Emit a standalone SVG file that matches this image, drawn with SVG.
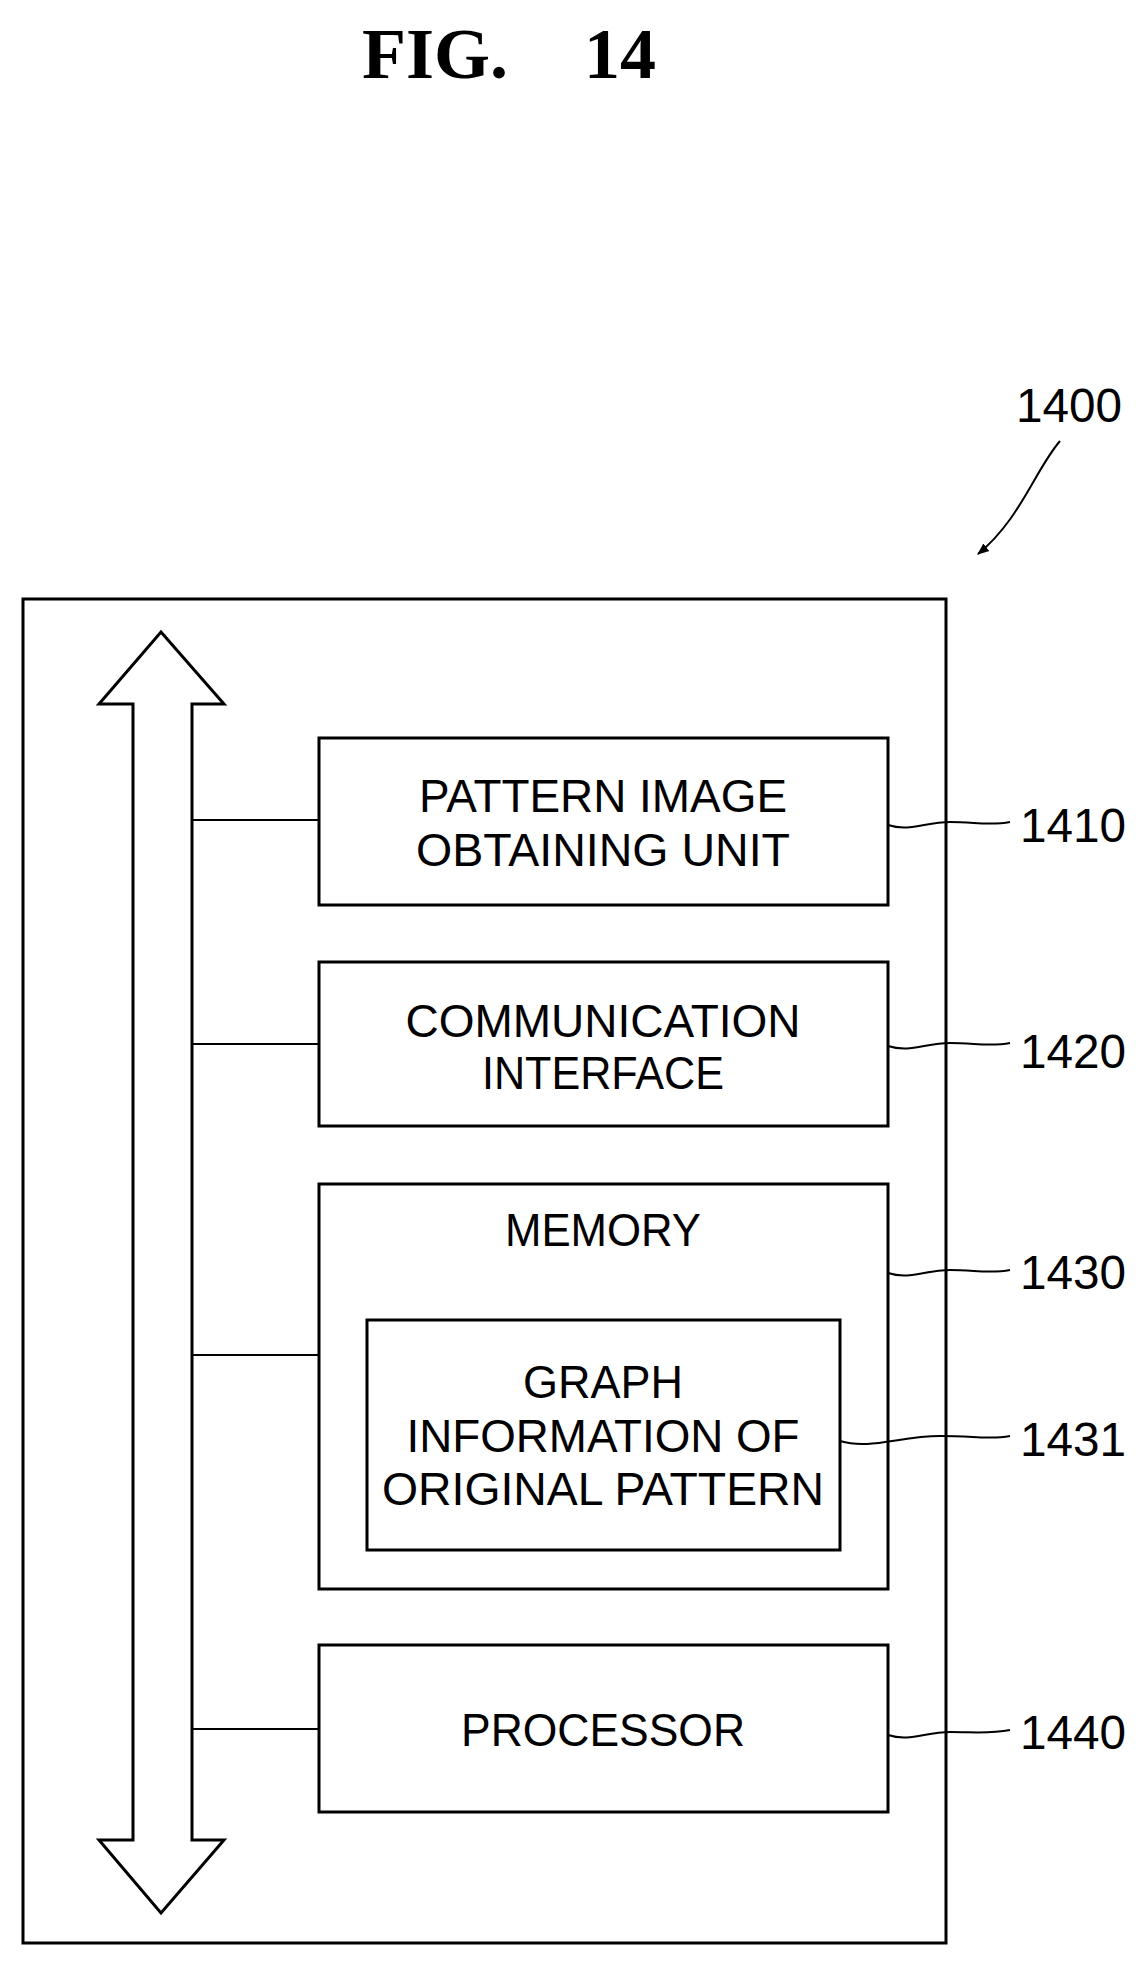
<svg xmlns="http://www.w3.org/2000/svg" width="1145" height="1966" viewBox="0 0 1145 1966">
<style>
.b{fill:#fff;stroke:#000;stroke-width:3}
.t{font-family:"Liberation Sans",Arial,sans-serif;font-size:47px;text-anchor:middle;fill:#000}
.l{font-family:"Liberation Sans",Arial,sans-serif;font-size:48px;fill:#000}
.c{fill:none;stroke:#000;stroke-width:2}
.f{font-family:"Liberation Serif",serif;font-weight:bold;font-size:72px;fill:#000}
</style>
<defs><marker id="ah" viewBox="0 0 10 10" refX="9" refY="5" markerWidth="12" markerHeight="12" orient="auto" markerUnits="userSpaceOnUse"><path d="M0,1 L10,5 L0,9 z" fill="#000"/></marker></defs>
<rect width="1145" height="1966" fill="#fff"/>
<text class="f" x="362" y="78">FIG.</text>
<text class="f" x="584" y="78">14</text>
<g id="n1400"><rect class="b" x="23" y="599" width="923" height="1344"/>
<text class="l" x="1016" y="422" textLength="106" lengthAdjust="spacingAndGlyphs">1400</text></g>
<g id="bus"><path class="b" stroke-width="2" d="M161,632 L224,704 L192,704 L192,1840 L224,1840 L161,1913 L99,1840 L133,1840 L133,704 L99,704 Z"/></g>
<g id="n1410"><rect class="b" x="319" y="738" width="569" height="167"/>
<text class="t" x="603" y="812" textLength="368" lengthAdjust="spacingAndGlyphs">PATTERN IMAGE</text>
<text class="t" x="603" y="866" textLength="374" lengthAdjust="spacingAndGlyphs">OBTAINING UNIT</text>
<text class="l" x="1020" y="842" textLength="106" lengthAdjust="spacingAndGlyphs">1410</text></g>
<g id="n1420"><rect class="b" x="319" y="962" width="569" height="164"/>
<text class="t" x="603" y="1037" textLength="395" lengthAdjust="spacingAndGlyphs">COMMUNICATION</text>
<text class="t" x="603" y="1089" textLength="242" lengthAdjust="spacingAndGlyphs">INTERFACE</text>
<text class="l" x="1020" y="1068" textLength="106" lengthAdjust="spacingAndGlyphs">1420</text></g>
<g id="n1430"><rect class="b" x="319" y="1184" width="569" height="405"/>
<text class="t" x="603" y="1246" textLength="196" lengthAdjust="spacingAndGlyphs">MEMORY</text>
<text class="l" x="1020" y="1289" textLength="106" lengthAdjust="spacingAndGlyphs">1430</text></g>
<g id="n1431"><rect class="b" x="367" y="1320" width="473" height="230"/>
<text class="t" x="603" y="1398" textLength="160" lengthAdjust="spacingAndGlyphs">GRAPH</text>
<text class="t" x="603" y="1452" textLength="393" lengthAdjust="spacingAndGlyphs">INFORMATION OF</text>
<text class="t" x="603" y="1505" textLength="442" lengthAdjust="spacingAndGlyphs">ORIGINAL PATTERN</text>
<text class="l" x="1020" y="1456" textLength="106" lengthAdjust="spacingAndGlyphs">1431</text></g>
<g id="n1440"><rect class="b" x="319" y="1645" width="569" height="167"/>
<text class="t" x="603" y="1746" textLength="284" lengthAdjust="spacingAndGlyphs">PROCESSOR</text>
<text class="l" x="1020" y="1749" textLength="106" lengthAdjust="spacingAndGlyphs">1440</text></g>
<g id="connectors">
<path class="c" d="M192,820 H319 M192,1044 H319 M192,1355 H319 M192,1729 H319"/>
<path class="c" d="M888,825 C910,832 925,822 950,822 C975,822 990,826 1010,822"/>
<path class="c" d="M888,1046 C910,1053 925,1043 950,1043 C975,1043 990,1047 1010,1043"/>
<path class="c" d="M888,1273 C910,1280 925,1270 950,1270 C975,1270 990,1274 1010,1270"/>
<path class="c" d="M840,1441 C870,1450 900,1436 940,1436 C975,1436 990,1440 1010,1436"/>
<path class="c" d="M888,1735 C910,1742 925,1732 950,1732 C975,1732 990,1734 1010,1730"/>
<path class="c" d="M1060,441 C1035,470 1020,520 978,554" marker-end="url(#ah)"/>
</g>
</svg>
